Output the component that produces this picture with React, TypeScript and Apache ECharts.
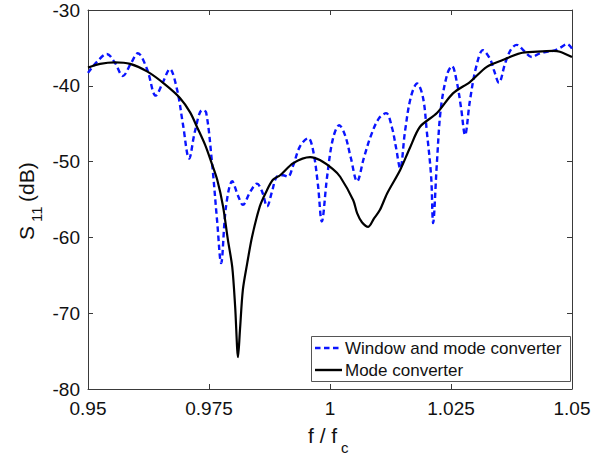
import React, { useEffect, useRef } from "react";
import * as echarts from "echarts";

// Window and mode converter (blue dashed)
const freqWindow = [
  0.95, 0.9519, 0.9539, 0.9556, 0.9572, 0.9589, 0.9603, 0.9622, 0.964, 0.9655,
  0.9669, 0.9684, 0.9696, 0.9709, 0.9721, 0.9736, 0.9744, 0.9756, 0.9767, 0.9775,
  0.9785, 0.9798, 0.981, 0.982, 0.9835, 0.9849, 0.986, 0.987, 0.988, 0.989,
  0.9903, 0.9913, 0.9924, 0.9938, 0.9955, 0.9965, 0.9975, 0.9983, 0.9994, 1.0006,
  1.0019, 1.0031, 1.0043, 1.0056, 1.007, 1.0085, 1.0101, 1.0116, 1.0128, 1.0136,
  1.0145, 1.0155, 1.0167, 1.018, 1.0192, 1.02, 1.0209, 1.0213, 1.0221, 1.0229,
  1.0242, 1.0252, 1.0262, 1.0271, 1.0279, 1.0289, 1.0302, 1.0316, 1.0331, 1.0339,
  1.0349, 1.0362, 1.0374, 1.0386, 1.0401, 1.0417, 1.0434, 1.045, 1.0461, 1.0475,
  1.049, 1.05,
];
const s11Window = [
  -38.3, -36.8, -35.8, -37.0, -38.7, -37.0, -35.7, -37.8, -41.3, -39.5,
  -37.8, -40.5, -45.0, -49.6, -46.0, -43.2, -43.5, -50.0, -58.0, -63.4,
  -56.0, -52.6, -54.5, -55.7, -54.0, -52.9, -54.0, -55.9, -54.0, -52.0,
  -51.8, -52.0, -50.5, -48.0, -46.9, -48.5, -53.0, -57.9, -52.0, -47.0,
  -45.2, -46.5, -49.5, -52.6, -49.5, -46.5, -44.3, -43.6, -45.5, -48.0,
  -50.9, -46.0, -41.5, -39.7, -41.5, -46.0, -52.0, -58.1, -50.0, -43.0,
  -38.5, -37.4, -39.5, -43.0, -46.5, -42.0, -37.5, -35.3, -36.5, -38.0,
  -39.6, -37.0, -35.2, -34.6, -35.4, -36.2, -35.7, -35.5, -35.4, -35.0,
  -34.5, -35.1,
];

// Mode converter (black solid)
const freqMode = [
  0.95, 0.9525, 0.9556, 0.9587, 0.9622, 0.9659, 0.969, 0.9711, 0.9725, 0.9742,
  0.9756, 0.9767, 0.9779, 0.9789, 0.9798, 0.9804, 0.981, 0.9814, 0.982, 0.9829,
  0.9839, 0.9855, 0.9868, 0.9882, 0.9897, 0.9924, 0.9959, 0.9979, 1.0006, 1.0021,
  1.0048, 1.0056, 1.0066, 1.0079, 1.0091, 1.0103, 1.0118, 1.0145, 1.0165, 1.0186,
  1.0221, 1.0254, 1.0289, 1.0324, 1.0357, 1.0393, 1.0428, 1.0461, 1.0475, 1.05,
];
const s11Mode = [
  -37.6, -37.1, -36.9, -37.1, -38.1, -39.8, -41.6, -43.5, -45.4, -47.8,
  -50.3, -52.4, -55.9, -60.3, -63.9, -69.1, -75.8, -72.2, -66.9, -63.4,
  -59.9, -55.9, -54.0, -52.4, -51.8, -50.2, -49.4, -49.8, -51.0, -52.0,
  -55.1, -56.8, -58.0, -58.6, -57.5, -56.4, -54.2, -51.1, -48.2, -45.4,
  -43.6, -41.0, -39.5, -37.5, -36.6, -35.7, -35.5, -35.4, -35.5, -36.2,
];

const xTicks = [0.95, 0.975, 1, 1.025, 1.05];
const yTicks = [-80, -70, -60, -50, -40, -30];

const seriesNames = ["Window and mode converter", "Mode converter"];
const seriesColors = ["#0a14ff", "#000000"];
const xTitle = ["f / f", "c"];
const yTitle = ["S", "11", "(dB)"];

const FONT = "Liberation Sans, Arial, sans-serif";
const TXT = "#111";

export default function App() {
  const ref = useRef<HTMLDivElement>(null);
  useEffect(() => {
    if (!ref.current) return;
    const chart = echarts.init(ref.current, undefined, { renderer: "svg" });
    const zip = (xs: number[], ys: number[]) => xs.map((x, i) => [x, ys[i]]);
    const axisLine = { show: true, lineStyle: { color: "#3a3a3a", width: 1 } };
    const tick = { show: true, inside: true, length: 5, lineStyle: { color: "#3a3a3a" } };
    const dash = [5.5, 3.5];

    const legendX = 311;
    const legendY = 336;
    const rowH = 22;
    const legendGraphics: any[] = [
      {
        type: "rect",
        shape: { x: legendX + 0.5, y: legendY + 0.5, width: 259, height: 45 },
        style: { fill: "#fff", stroke: "#555", lineWidth: 1 },
        z: 100,
      },
    ];
    seriesNames.forEach((name, i) => {
      const cy = legendY + 12 + i * rowH;
      legendGraphics.push({
        type: "line",
        shape: { x1: legendX + 4, y1: cy, x2: legendX + 31, y2: cy },
        style: {
          stroke: seriesColors[i],
          lineWidth: 2.4,
          lineDash: i === 0 ? dash : null,
        },
        z: 101,
      });
      legendGraphics.push({
        type: "text",
        x: legendX + 34,
        y: cy,
        style: {
          text: name,
          font: `17px ${FONT}`,
          fill: TXT,
          align: "left",
          verticalAlign: "middle",
        },
        z: 101,
      });
    });

    const titleGraphics: any[] = [
      {
        type: "text",
        x: 308,
        y: 435,
        style: { text: xTitle[0], font: `21px ${FONT}`, fill: TXT, align: "left", verticalAlign: "middle" },
      },
      {
        type: "text",
        x: 341,
        y: 447,
        style: { text: xTitle[1], font: `15px ${FONT}`, fill: TXT, align: "left", verticalAlign: "middle" },
      },
      {
        type: "group",
        x: 26,
        y: 200,
        rotation: Math.PI / 2,
        children: [
          {
            type: "text",
            x: -40,
            y: 0,
            style: { text: yTitle[0], font: `21px ${FONT}`, fill: TXT, align: "left", verticalAlign: "middle" },
          },
          {
            type: "text",
            x: -22,
            y: 10,
            style: { text: yTitle[1], font: `15px ${FONT}`, fill: TXT, align: "left", verticalAlign: "middle" },
          },
          {
            type: "text",
            x: -2,
            y: 0,
            style: { text: yTitle[2], font: `21px ${FONT}`, fill: TXT, align: "left", verticalAlign: "middle" },
          },
        ],
      },
    ];

    chart.setOption({
      animation: false,
      backgroundColor: "#fff",
      grid: { left: 88, right: 33, top: 10, bottom: 68, containLabel: false },
      xAxis: [
        {
          type: "value",
          min: xTicks[0],
          max: xTicks[xTicks.length - 1],
          interval: 0.025,
          axisLine,
          axisTick: tick,
          splitLine: { show: false },
          axisLabel: {
            fontSize: 19,
            fontFamily: FONT,
            color: TXT,
            margin: 10,
            formatter: (v: number) => String(+v.toFixed(3)),
          },
        },
        {
          type: "value",
          position: "top",
          min: xTicks[0],
          max: xTicks[xTicks.length - 1],
          interval: 0.025,
          axisLine,
          axisTick: tick,
          axisLabel: { show: false },
          splitLine: { show: false },
        },
      ],
      yAxis: [
        {
          type: "value",
          min: yTicks[0],
          max: yTicks[yTicks.length - 1],
          interval: 10,
          axisLine,
          axisTick: tick,
          splitLine: { show: false },
          axisLabel: { fontSize: 19, fontFamily: FONT, color: TXT, margin: 8 },
        },
        {
          type: "value",
          position: "right",
          min: yTicks[0],
          max: yTicks[yTicks.length - 1],
          interval: 10,
          axisLine,
          axisTick: tick,
          axisLabel: { show: false },
          splitLine: { show: false },
        },
      ],
      graphic: [...legendGraphics, ...titleGraphics],
      series: [
        {
          name: seriesNames[0],
          type: "line",
          data: zip(freqWindow, s11Window),
          showSymbol: false,
          symbol: "none",
          smooth: 0.35,
          color: seriesColors[0],
          lineStyle: { color: seriesColors[0], width: 2.4, type: dash },
          z: 2,
        },
        {
          name: seriesNames[1],
          type: "line",
          data: zip(freqMode, s11Mode),
          showSymbol: false,
          symbol: "none",
          smooth: 0.3,
          color: seriesColors[1],
          lineStyle: { color: seriesColors[1], width: 2.2 },
          z: 3,
        },
      ],
    });
    return () => chart.dispose();
  }, []);
  return (
    <div
      ref={ref}
      style={{ position: "fixed", left: 0, top: 0, width: 605, height: 457, background: "#fff" }}
    />
  );
}
